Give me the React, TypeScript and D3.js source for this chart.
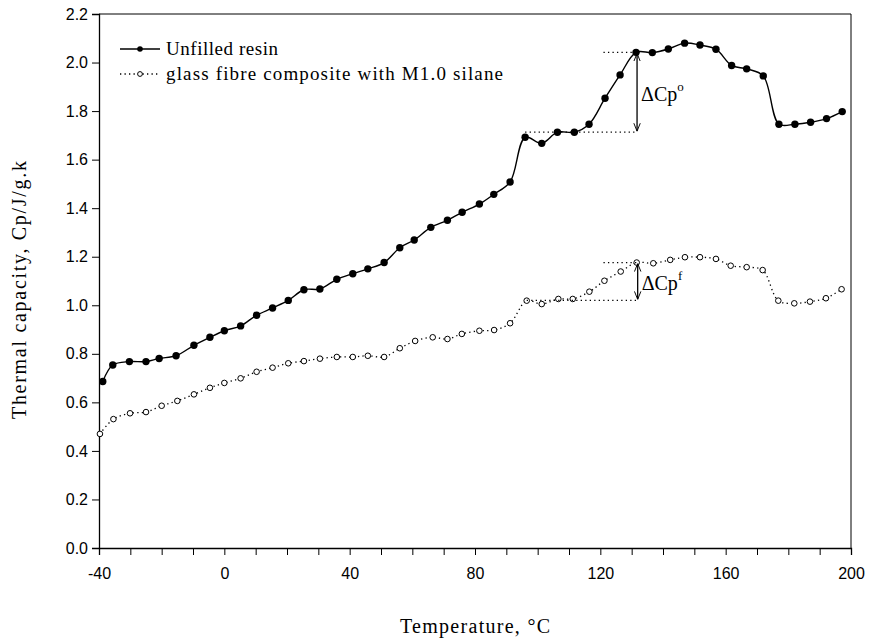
import React, { useEffect, useRef } from 'react';
import * as d3 from 'd3';

// Unfilled resin, temperature (C) and Cp (J/g.K)
const resinTemp = [-38.8, -35.6, -30.3, -25, -20.8, -15.4, -9.7, -4.6, 0, 5.2, 10.3, 15.4, 20.4, 25.4, 30.5, 35.9, 41, 45.8, 51, 56, 60.6, 65.9, 71.2, 75.9, 81.4, 86, 91.2, 96, 101.3, 106.3, 111.7, 116.4, 121.5, 126.3, 131.4, 136.6, 141.7, 146.9, 151.8, 156.9, 161.9, 166.7, 172, 177, 182.1, 187.1, 192.2, 197.2];
const resinCp = [0.686, 0.754, 0.768, 0.768, 0.781, 0.792, 0.835, 0.868, 0.895, 0.915, 0.959, 0.989, 1.02, 1.064, 1.067, 1.107, 1.13, 1.15, 1.176, 1.237, 1.269, 1.321, 1.35, 1.383, 1.417, 1.457, 1.508, 1.692, 1.667, 1.713, 1.713, 1.746, 1.853, 1.949, 2.042, 2.041, 2.056, 2.08, 2.072, 2.055, 1.988, 1.974, 1.945, 1.746, 1.746, 1.754, 1.769, 1.798];

// glass fibre composite with M1.0 silane
const compTemp = [-39.7, -35.4, -30.1, -25, -20, -15, -9.7, -4.6, 0, 5.2, 10.3, 15.4, 20.4, 25.4, 30.5, 35.9, 41, 45.8, 51, 56, 60.9, 66.5, 71.2, 75.8, 81.4, 86.1, 91.2, 96.5, 101.3, 106.6, 111.2, 116.5, 121.3, 126.5, 131.6, 136.9, 142.3, 147, 151.8, 156.9, 161.6, 166.7, 171.8, 176.8, 181.9, 186.9, 192, 197];
const compCp = [0.47, 0.531, 0.555, 0.56, 0.586, 0.606, 0.633, 0.66, 0.68, 0.699, 0.726, 0.743, 0.761, 0.77, 0.78, 0.787, 0.787, 0.792, 0.787, 0.823, 0.853, 0.868, 0.861, 0.882, 0.895, 0.898, 0.926, 1.019, 1.005, 1.026, 1.026, 1.056, 1.101, 1.139, 1.176, 1.173, 1.187, 1.198, 1.198, 1.191, 1.163, 1.157, 1.145, 1.019, 1.008, 1.015, 1.029, 1.066];

const xTicks = [-40, 0, 40, 80, 120, 160, 200];
const yTicks = [0, 0.2, 0.4, 0.6, 0.8, 1.0, 1.2, 1.4, 1.6, 1.8, 2.0, 2.2];
const legendLabels = ['Unfilled resin', 'glass fibre composite with M1.0 silane'];

// step annotations: [from T, to T, short line from T, lower Cp, upper Cp]
const stepResin = [96, 131.4, 121, 1.713, 2.042];
const stepComp = [96.5, 131.6, 121, 1.02, 1.176];

const W = 878;
const H = 640;
const serif = '"Liberation Serif", "Times New Roman", serif';
const sans = '"Liberation Sans", Arial, sans-serif';

export default function App() {
	const ref = useRef<SVGSVGElement>(null);

	useEffect(() => {
		const svg = d3.select(ref.current);
		svg.selectAll('*').remove();

		const x = d3.scaleLinear().domain([-40, 200]).range([99, 851]);
		const y = d3.scaleLinear().domain([0, 2.2]).range([548, 14]);

		const defs = svg.append('defs');
		defs
			.append('marker')
			.attr('id', 'head')
			.attr('viewBox', '0 0 10 10')
			.attr('refX', 10)
			.attr('refY', 5)
			.attr('markerWidth', 8)
			.attr('markerHeight', 8)
			.attr('markerUnits', 'userSpaceOnUse')
			.attr('orient', 'auto-start-reverse')
			.append('path')
			.attr('d', 'M0,1 L10,5 L0,9')
			.attr('fill', 'none')
			.attr('stroke', '#000')
			.attr('stroke-width', 1.2);

		// frame
		svg
			.append('path')
			.attr('d', `M${x(-40)},${y(2.2)}H${x(200)}V${y(0)}`)
			.attr('fill', 'none')
			.attr('stroke', '#000');

		// x axis
		const xAxis = svg
			.append('g')
			.attr('transform', `translate(0,${y(0)})`)
			.call(
				d3
					.axisBottom(x)
					.tickValues(d3.range(-40, 201, 10))
					.tickSize(7)
					.tickFormat(d => (xTicks.includes(d as number) ? String(d) : ''))
			);
		xAxis.select('.domain').attr('stroke', '#000').attr('stroke-width', 1.3);
		xAxis.selectAll('text').attr('font-family', sans).attr('font-size', 16).attr('fill', '#000').attr('dy', '1.3em');

		// y axis
		const yAxis = svg
			.append('g')
			.attr('transform', `translate(${x(-40)},0)`)
			.call(d3.axisLeft(y).tickValues(yTicks).tickSize(7).tickFormat(d3.format('.1f')));
		yAxis.select('.domain').attr('stroke', '#000').attr('stroke-width', 1.3);
		yAxis.selectAll('text').attr('font-family', sans).attr('font-size', 16).attr('fill', '#000').attr('x', -11);

		const resin = resinTemp.map((t, i) => [t, resinCp[i]] as [number, number]);
		const comp = compTemp.map((t, i) => [t, compCp[i]] as [number, number]);

		const line = d3
			.line<[number, number]>()
			.x(d => x(d[0]))
			.y(d => y(d[1]))
			.curve(d3.curveCatmullRom.alpha(0.5));

		svg
			.append('path')
			.datum(comp)
			.attr('d', line)
			.attr('fill', 'none')
			.attr('stroke', '#000')
			.attr('stroke-width', 1.3)
			.attr('stroke-dasharray', '1.3,3.2');

		svg
			.append('path')
			.datum(resin)
			.attr('d', line)
			.attr('fill', 'none')
			.attr('stroke', '#000')
			.attr('stroke-width', 1.4);

		svg
			.append('g')
			.selectAll('circle')
			.data(comp)
			.enter()
			.append('circle')
			.attr('cx', d => x(d[0]))
			.attr('cy', d => y(d[1]))
			.attr('r', 2.8)
			.attr('fill', '#fff')
			.attr('stroke', '#000')
			.attr('stroke-width', 1);

		svg
			.append('g')
			.selectAll('circle')
			.data(resin)
			.enter()
			.append('circle')
			.attr('cx', d => x(d[0]))
			.attr('cy', d => y(d[1]))
			.attr('r', 3.7)
			.attr('fill', '#000');

		// step annotations
		const drawStep = (s: number[], label: string, sup: string) => {
			const [t0, t1, ts, lo, hi] = s;
			const g = svg.append('g');
			g.append('line')
				.attr('x1', x(t0))
				.attr('x2', x(t1))
				.attr('y1', y(lo))
				.attr('y2', y(lo))
				.attr('stroke', '#000')
				.attr('stroke-dasharray', '1.3,3.2')
				.attr('stroke-width', 1.3);
			g.append('line')
				.attr('x1', x(ts))
				.attr('x2', x(t1))
				.attr('y1', y(hi))
				.attr('y2', y(hi))
				.attr('stroke', '#000')
				.attr('stroke-dasharray', '1.3,3.2')
				.attr('stroke-width', 1.3);
			g.append('line')
				.attr('x1', x(t1) + 1)
				.attr('x2', x(t1) + 1)
				.attr('y1', y(hi) + 1)
				.attr('y2', y(lo) - 1)
				.attr('stroke', '#000')
				.attr('stroke-width', 1.3)
				.attr('marker-start', 'url(#head)')
				.attr('marker-end', 'url(#head)');
			const txt = g
				.append('text')
				.attr('x', x(t1) + 5)
				.attr('y', (y(hi) + y(lo)) / 2 + 9)
				.attr('font-family', serif)
				.attr('font-size', 20)
				.text(label);
			txt.append('tspan').attr('dy', -10).attr('font-size', 13).text(sup);
		};
		drawStep(stepResin, '\u0394Cp', 'o');
		drawStep(stepComp, '\u0394Cp', 'f');

		// legend
		const lg = svg.append('g').attr('font-family', serif).attr('font-size', 19);
		lg.append('line').attr('x1', 120).attr('x2', 160).attr('y1', 49).attr('y2', 49).attr('stroke', '#000').attr('stroke-width', 1.4);
		lg.append('circle').attr('cx', 140).attr('cy', 49).attr('r', 2.8).attr('fill', '#000');
		lg.append('text')
			.attr('x', 166)
			.attr('y', 55)
			.attr('textLength', 112)
			.attr('lengthAdjust', 'spacing')
			.text(legendLabels[0]);
		lg.append('line')
			.attr('x1', 120)
			.attr('x2', 160)
			.attr('y1', 74)
			.attr('y2', 74)
			.attr('stroke', '#000')
			.attr('stroke-width', 1.3)
			.attr('stroke-dasharray', '1.3,3.2');
		lg.append('circle').attr('cx', 140).attr('cy', 74).attr('r', 2.4).attr('fill', '#fff').attr('stroke', '#000');
		lg.append('text')
			.attr('x', 166)
			.attr('y', 80)
			.attr('textLength', 337)
			.attr('lengthAdjust', 'spacing')
			.text(legendLabels[1]);

		// axis titles
		svg
			.append('text')
			.attr('x', 475)
			.attr('y', 633)
			.attr('text-anchor', 'middle')
			.attr('font-family', serif)
			.attr('font-size', 20)
			.attr('textLength', 150)
			.attr('lengthAdjust', 'spacing')
			.text('Temperature, \u00B0C');
		svg
			.append('text')
			.attr('transform', 'translate(26,290) rotate(-90)')
			.attr('text-anchor', 'middle')
			.attr('font-family', serif)
			.attr('font-size', 20)
			.attr('textLength', 258)
			.attr('lengthAdjust', 'spacing')
			.text('Thermal capacity, Cp/J/g.k');
	}, []);

	return <svg ref={ref} width={W} height={H} style={{ position: 'absolute', left: 0, top: 0, background: '#fff' }} />;
}
